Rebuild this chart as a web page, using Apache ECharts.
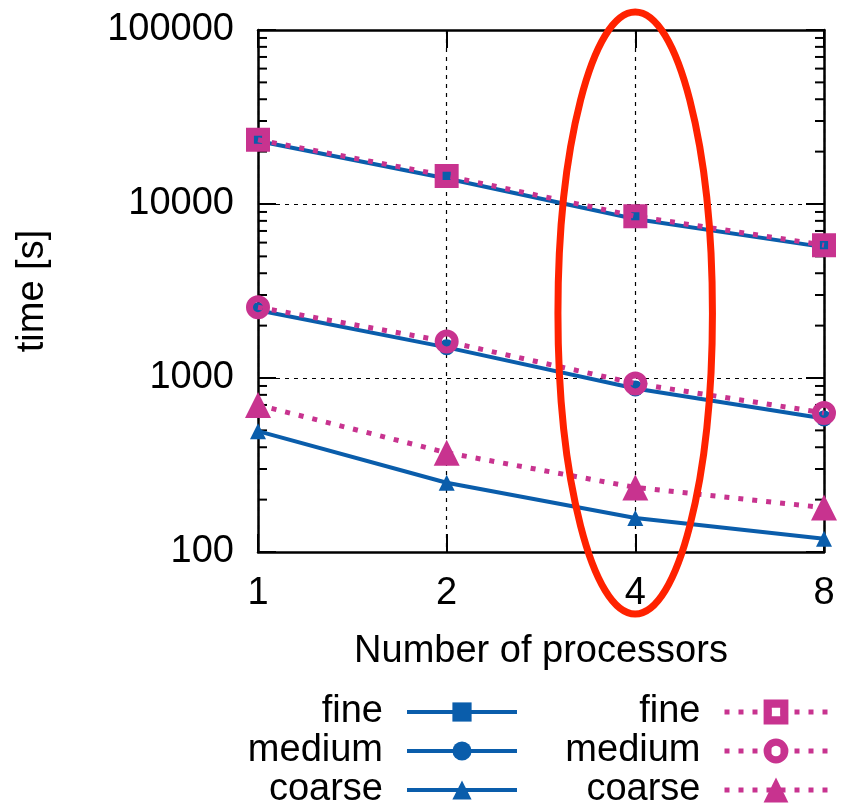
<!DOCTYPE html>
<html>
<head>
<meta charset="utf-8">
<script src="https://cdn.jsdelivr.net/npm/echarts@6/dist/echarts.min.js"></script>
<style>
  html, body { margin: 0; padding: 0; background: #fff; }
  #chart { width: 841px; height: 804px; }
</style>
</head>
<body>
<div id="chart"></div>
<script>
// processors on x, wall time on y (log-log)
const processors = [1, 2, 4, 8];

// solid blue runs
const fineA = [23000, 14000, 8200, 5650];
const mediumA = [2450, 1500, 870, 585];
const coarseA = [495, 250, 157, 119];

// dotted pink runs
const fineB = [23400, 14500, 8500, 5800];
const mediumB = [2550, 1620, 930, 630];
const coarseB = [700, 372, 235, 180];

const yTicks = [100, 1000, 10000, 100000];
// gnuplot style minor tics 2..9 per decade
const minorTicks = [];
for (let d = 100; d < 100000; d *= 10) {
  for (let k = 2; k <= 9; k++) minorTicks.push(d * k);
}

// red highlight around p = 4 (data-space bounding box)
const ellipseX = [3.01, 5.31];
const ellipseY = [44, 127000];

const BLUE = '#0a5dab';
const PINK = '#c8338f';
const FONT = 'Liberation Sans, Arial, sans-serif';
const DOTS = [5, 9];

// pink open symbols with a hole in the middle
const openSquare = 'path://M0,0H10V10H0Z M3.3,3.3V6.7H6.7V3.3Z';
const openCircle = 'path://M10,0A10,10,0,1,1,-10,0A10,10,0,1,1,10,0Z M4.2,0A4.2,4.2,0,1,0,-4.2,0A4.2,4.2,0,1,0,4.2,0Z';

function pairs(vals) {
  return processors.map((p, i) => [p, vals[i]]);
}

function solid(name, vals, symbol, size) {
  return {
    name: name, type: 'line', data: pairs(vals),
    symbol: symbol, symbolSize: size,
    lineStyle: { color: BLUE, width: 4 },
    itemStyle: { color: BLUE },
    z: 3
  };
}

function dotted(name, vals, symbol, size) {
  return {
    name: name, type: 'line', data: pairs(vals),
    symbol: symbol, symbolSize: size,
    lineStyle: { color: PINK, width: 5, type: DOTS, cap: 'butt' },
    itemStyle: { color: PINK },
    z: 4
  };
}

const chart = echarts.init(document.getElementById('chart'));

const tickStyle = { color: '#000', width: 2 };

chart.setOption({
  animation: false,
  backgroundColor: '#fff',
  textStyle: { fontFamily: FONT },
  grid: { left: 258, right: 17, top: 30, bottom: 252 },
  xAxis: [
    {
      type: 'log', logBase: 2, min: 1, max: 8, splitNumber: 3,
      name: 'Number of processors', nameLocation: 'middle', nameGap: 81,
      nameTextStyle: { fontSize: 38, color: '#000', fontFamily: FONT },
      axisLine: { lineStyle: { color: '#000', width: 2.5 } },
      axisTick: { inside: true, length: 18, lineStyle: tickStyle },
      axisLabel: { fontSize: 38, color: '#000', margin: 23, fontFamily: FONT,
        formatter: v => String(Math.round(v)) },
      splitLine: { show: true, lineStyle: { color: '#000', width: 1.2, type: [4, 5] } }
    },
    {
      type: 'log', logBase: 2, min: 1, max: 8, splitNumber: 3, position: 'top',
      axisLine: { lineStyle: { color: '#000', width: 2.5 } },
      axisTick: { inside: true, length: 18, lineStyle: tickStyle },
      axisLabel: { show: false },
      splitLine: { show: false }
    }
  ],
  yAxis: [
    {
      type: 'log', logBase: 10, min: yTicks[0], max: yTicks[yTicks.length - 1], splitNumber: 3,
      name: 'time [s]', nameLocation: 'middle', nameGap: 206,
      nameTextStyle: { fontSize: 38, color: '#000', fontFamily: FONT },
      axisLine: { lineStyle: { color: '#000', width: 2.5 } },
      axisTick: { inside: true, length: 18, lineStyle: tickStyle },
      axisLabel: { fontSize: 38, color: '#000', margin: 24, fontFamily: FONT,
        formatter: v => String(Math.round(v)) },
      splitLine: { show: true, lineStyle: { color: '#000', width: 1.2, type: [4, 5] } }
    },
    {
      type: 'log', logBase: 10, min: yTicks[0], max: yTicks[yTicks.length - 1], splitNumber: 3,
      position: 'right',
      axisLine: { lineStyle: { color: '#000', width: 2.5 } },
      axisTick: { inside: true, length: 18, lineStyle: tickStyle },
      axisLabel: { show: false },
      splitLine: { show: false }
    }
  ],
  legend: [
    {
      data: ['fine-a', 'medium-a', 'coarse-a'],
      formatter: n => n.split('-')[0],
      orient: 'vertical', align: 'right', right: 322, top: 693, height: 200, padding: 0,
      itemWidth: 110, itemHeight: 24, itemGap: 1, selectedMode: false,
      lineStyle: { width: 4 },
      textStyle: { fontSize: 38, color: '#000', fontFamily: FONT, padding: [0, 19, 0, 0] }
    },
    {
      data: ['fine-b', 'medium-b', 'coarse-b'],
      formatter: n => n.split('-')[0],
      orient: 'vertical', align: 'right', right: 11, top: 693, height: 200, padding: 0,
      itemWidth: 103, itemHeight: 31, itemGap: 1, selectedMode: false,
      lineStyle: { width: 5, type: DOTS, cap: 'butt' },
      textStyle: { fontSize: 38, color: '#000', fontFamily: FONT, padding: [0, 19, 0, 0] }
    }
  ],
  series: [
    solid('fine-a', fineA, 'rect', 17),
    solid('medium-a', mediumA, 'circle', 16),
    solid('coarse-a', coarseA, 'triangle', 16),
    dotted('fine-b', fineB, openSquare, 24),
    dotted('medium-b', mediumB, openCircle, 24),
    dotted('coarse-b', coarseB, 'triangle', 26),
    {
      // minor tics on left and right borders
      type: 'custom', silent: true, clip: false, z: 2,
      data: minorTicks.map(v => [1, v]),
      encode: { x: 0, y: 1 },
      renderItem: (params, api) => {
        const v = api.value(1);
        const l = api.coord([processors[0], v]);
        const r = api.coord([processors[processors.length - 1], v]);
        return {
          type: 'group',
          children: [
            { type: 'line', shape: { x1: l[0], y1: l[1], x2: l[0] + 9, y2: l[1] }, style: { stroke: '#000', lineWidth: 2 } },
            { type: 'line', shape: { x1: r[0] - 9, y1: r[1], x2: r[0], y2: r[1] }, style: { stroke: '#000', lineWidth: 2 } }
          ]
        };
      }
    },
    {
      // red highlight ellipse
      type: 'custom', silent: true, clip: false, z: 10,
      data: [[ellipseX[0], ellipseY[1], ellipseX[1], ellipseY[0]]],
      encode: { x: [0, 2], y: [1, 3] },
      renderItem: (params, api) => {
        const a = api.coord([api.value(0), api.value(1)]);
        const b = api.coord([api.value(2), api.value(3)]);
        return {
          type: 'ellipse',
          shape: { cx: (a[0] + b[0]) / 2, cy: (a[1] + b[1]) / 2, rx: Math.abs(b[0] - a[0]) / 2, ry: Math.abs(b[1] - a[1]) / 2 },
          style: { fill: 'none', stroke: '#ff2200', lineWidth: 7 }
        };
      }
    }
  ]
});
</script>
</body>
</html>
